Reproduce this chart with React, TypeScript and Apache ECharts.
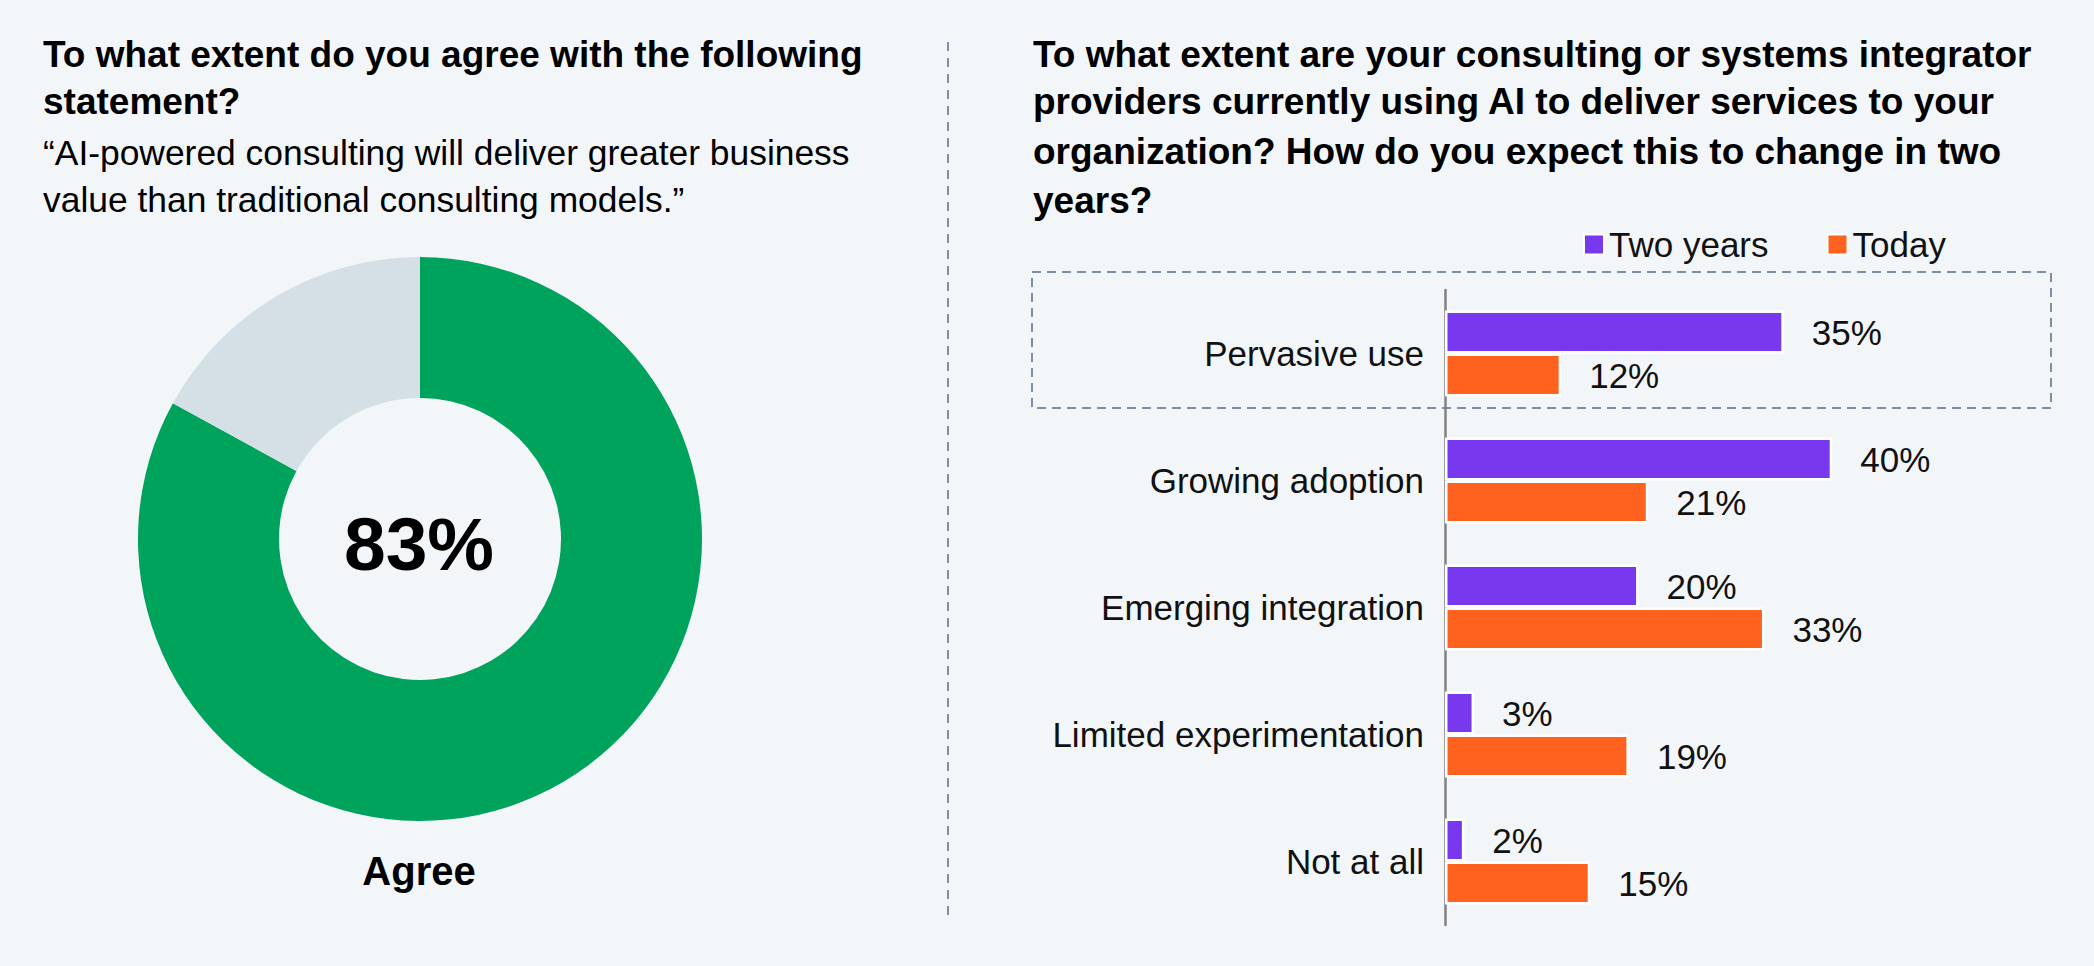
import React, { useEffect, useRef } from 'react';
import * as echarts from 'echarts';

const categories = ['Pervasive use', 'Growing adoption', 'Emerging integration', 'Limited experimentation', 'Not at all'];
const twoYears = [35, 40, 20, 3, 2];
const today = [12, 21, 33, 19, 15];
const seriesNames = ['Two years', 'Today'];
const donutNames = ['Agree', 'Other'];
const donutValues = [83, 17];

const leftTitle = ['To what extent do you agree with the following', 'statement?'];
const leftQuote = ['\u201CAI-powered consulting will deliver greater business', 'value than traditional consulting models.\u201D'];
const rightTitle = [
  'To what extent are your consulting or systems integrator',
  'providers currently using AI to deliver services to your',
  'organization? How do you expect this to change in two',
  'years?',
];

const FONT = '"Liberation Sans", Arial, Helvetica, sans-serif';
const BG = '#F2F6F9';
const PURPLE = '#7839EE';
const ORANGE = '#FF621F';
const GREEN = '#00A35C';
const GREY = '#D5E0E6';
const DASH = '#7C8EA8';

function textEl(text: string, x: number, y: number, size: number, weight: string, align = 'left') {
  return {
    type: 'text',
    x,
    y,
    silent: true,
    style: {
      text,
      fontSize: size,
      fontWeight: weight,
      fontFamily: FONT,
      fill: '#000',
      align,
      textAlign: align,
      verticalAlign: 'middle',
      textVerticalAlign: 'middle',
    },
  };
}

export default function App() {
  const ref = useRef<HTMLDivElement>(null);
  useEffect(() => {
    document.body.style.margin = '0';
    const chart = echarts.init(ref.current!, null, { renderer: 'svg' });
    const titleYs = [54, 101.5];
    const quoteYs = [152.5, 200];
    const rightYs = [54, 101.5, 151, 200];
    const graphics: any[] = [];
    leftTitle.forEach((t, i) => graphics.push(textEl(t, 43, titleYs[i], 37, 'bold')));
    leftQuote.forEach((t, i) => graphics.push(textEl(t, 43, quoteYs[i], 35.4, 'normal')));
    rightTitle.forEach((t, i) => graphics.push(textEl(t, 1033, rightYs[i], 37, 'bold')));
    graphics.push(textEl(donutValues[0] + '%', 419, 543.5, 75, 'bold', 'center'));
    graphics.push(textEl(donutNames[0], 419, 871, 40, 'bold', 'center'));
    graphics.push({
      type: 'line',
      silent: true,
      shape: { x1: 948, y1: 42, x2: 948, y2: 919 },
      style: { stroke: DASH, lineWidth: 2, lineDash: [9, 7] },
    });
    graphics.push({
      type: 'rect',
      silent: true,
      z: -1,
      shape: { x: 1032, y: 272, width: 1019, height: 136 },
      style: { fill: 'none', stroke: DASH, lineWidth: 2, lineDash: [9, 6] },
    });

    const labelStyle = {
      show: true,
      position: 'right',
      distance: 28,
      fontSize: 35,
      fontFamily: FONT,
      color: '#111',
      formatter: '{c}%',
    };

    chart.setOption({
      animation: false,
      backgroundColor: BG,
      textStyle: { fontFamily: FONT },
      graphic: { elements: graphics },
      legend: {
        data: seriesNames,
        left: 1578,
        top: 222,
        icon: 'rect',
        itemWidth: 20,
        itemHeight: 20,
        itemGap: 58,
        itemTextGap: 7,
        textStyle: { fontSize: 35, color: '#111', fontFamily: FONT },
        selectedMode: false,
      },
      grid: { left: 1445, top: 290, width: 484, height: 635, containLabel: false },
      xAxis: {
        type: 'value',
        min: 0,
        max: 50,
        show: false,
        splitLine: { show: false },
      },
      yAxis: {
        type: 'category',
        data: categories,
        inverse: true,
        axisTick: { show: false },
        axisLine: { show: true, lineStyle: { color: '#808080', width: 2.5 } },
        axisLabel: { fontSize: 35, color: '#111', margin: 21, fontFamily: FONT },
        splitLine: { show: false },
      },
      series: [
        {
          name: seriesNames[0],
          type: 'bar',
          data: twoYears,
          barWidth: 43,
          barGap: '0%',
          itemStyle: { color: PURPLE, borderColor: '#fff', borderWidth: 2.5 },
          label: labelStyle,
          z: 1,
        },
        {
          name: seriesNames[1],
          type: 'bar',
          data: today,
          barWidth: 43,
          barGap: '0%',
          itemStyle: { color: ORANGE, borderColor: '#fff', borderWidth: 2.5 },
          label: labelStyle,
          z: 1,
        },
        {
          type: 'pie',
          center: [420, 539],
          radius: [141, 282],
          startAngle: 90,
          clockwise: true,
          silent: true,
          label: { show: false },
          labelLine: { show: false },
          itemStyle: { borderWidth: 0 },
          data: donutNames.map((n, i) => ({
            name: n,
            value: donutValues[i],
            itemStyle: { color: i === 0 ? GREEN : GREY },
          })),
        },
      ],
    });
    return () => chart.dispose();
  }, []);
  return <div ref={ref} style={{ width: 2094, height: 966 }} />;
}
